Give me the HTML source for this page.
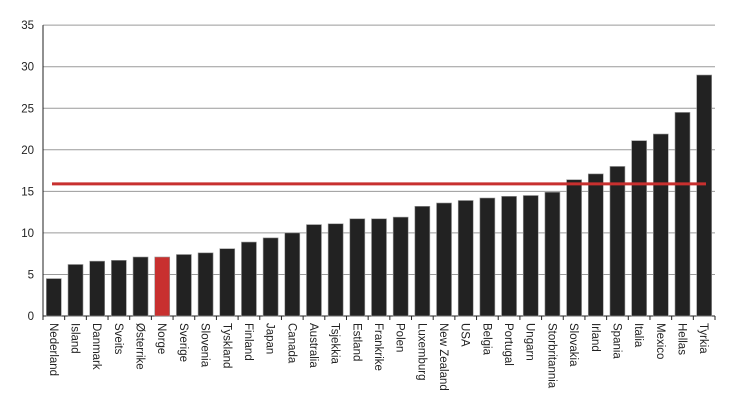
<!DOCTYPE html>
<html><head><style>
body{margin:0;background:#fff}
svg text{font-family:"Liberation Sans",sans-serif;font-size:11.5px;fill:#222}
</style></head><body>
<svg width="730" height="407" xmlns="http://www.w3.org/2000/svg">
<g id="g"></g>
</svg>
<script>
const names=["Nederland","Island","Danmark","Sveits","Østerrike","Norge","Sverige","Slovenia","Tyskland","Finland","Japan","Canada","Australia","Tsjekkia","Estland","Frankrike","Polen","Luxemburg","New Zealand","USA","Belgia","Portugal","Ungarn","Storbritannia","Slovakia","Irland","Spania","Italia","Mexico","Hellas","Tyrkia"];
const vals=[4.5,6.2,6.6,6.7,7.1,7.1,7.4,7.6,8.1,8.9,9.4,10.0,11.0,11.1,11.7,11.7,11.9,13.2,13.6,13.9,14.2,14.4,14.5,14.9,16.4,17.1,18.0,21.1,21.9,24.5,29.0];
const x0=43,x1=715,y0=316,k=8.31,cw=(x1-x0)/31;
let s="";
for(let v=0;v<=35;v+=5){const y=y0-v*k;
 if(v>0)s+=`<line x1="${x0}" x2="${x1}" y1="${y}" y2="${y}" stroke="#9a9a9a" stroke-width="1"/>`;
 s+=`<text x="${x0-9}" y="${y+4}" text-anchor="end">${v}</text>`;}
s+=`<line x1="${x0}" x2="${x0}" y1="${y0-35*k}" y2="${y0}" stroke="#222"/>`;
s+=`<line x1="${x0}" x2="${x1}" y1="${y0}" y2="${y0}" stroke="#222"/>`;
for(let i=0;i<=31;i++){const x=x0+i*cw;s+=`<line x1="${x}" x2="${x}" y1="${y0}" y2="${y0+4}" stroke="#222"/>`;}
names.forEach((n,i)=>{const c=x0+cw*(i+0.5),h=vals[i]*k;
 s+=`<rect x="${c-7.5}" y="${y0-h}" width="15" height="${h}" fill="${i==5?'#c8302f':'#222'}" stroke="#999" stroke-width="0.6"/>`;
 s+=`<text transform="translate(${c-4},${y0+7}) rotate(90)">${n}</text>`;});
s+=`<line x1="52" x2="706" y1="${y0-15.9*k}" y2="${y0-15.9*k}" stroke="#c8302f" stroke-width="3"/>`;
document.getElementById("g").innerHTML=s;
</script>
</body></html>
